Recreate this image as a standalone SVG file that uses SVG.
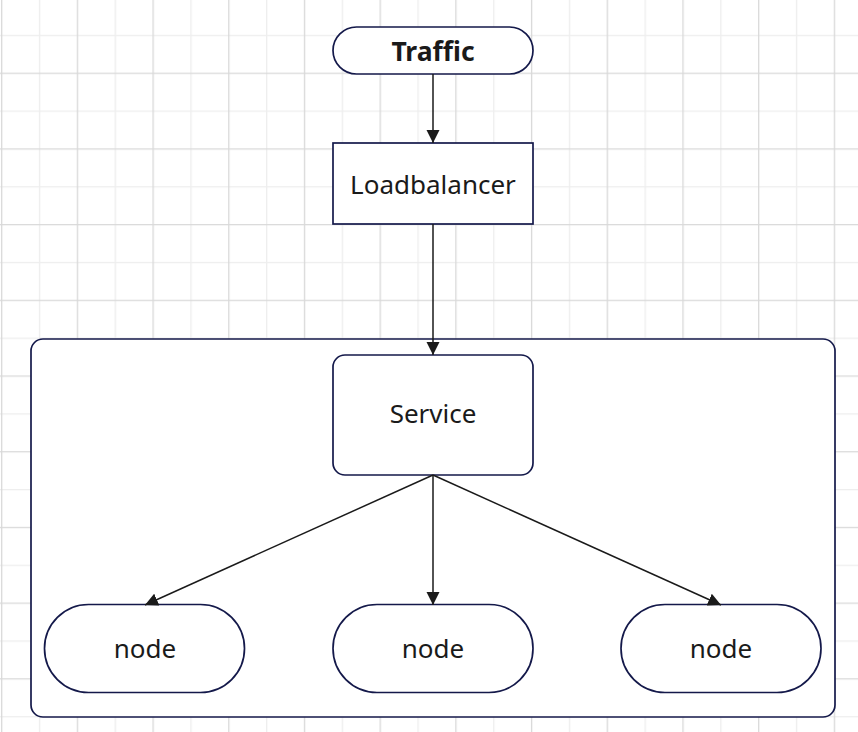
<svg xmlns="http://www.w3.org/2000/svg" width="858" height="732" viewBox="0 0 858 732">
<style>
.box{fill:#ffffff;stroke:#14194a;stroke-width:1.7}
.lbl{font-family:"Noto Sans","Open Sans",sans-serif;font-size:26px;fill:#1a1a1a;text-anchor:middle}
.bold{font-weight:bold;font-size:26.5px}
.edge{fill:none;stroke:#1a1a1a;stroke-width:1.5}
</style>
<defs>
<pattern id="grid" patternUnits="userSpaceOnUse" x="1.05" y="72.65" width="75.7" height="75.7">
<rect width="75.7" height="75.7" fill="#ffffff"/>
<line x1="0" y1="38.5" x2="75.7" y2="38.5" stroke="#eeeeee" stroke-width="1.3"/>
<line x1="38.5" y1="0" x2="38.5" y2="75.7" stroke="#eeeeee" stroke-width="1.3"/>
<line x1="0" y1="0.65" x2="75.7" y2="0.65" stroke="#d9d9d9" stroke-width="1.3"/>
<line x1="0.65" y1="0" x2="0.65" y2="75.7" stroke="#d9d9d9" stroke-width="1.3"/>
</pattern>
<marker id="arr" markerUnits="userSpaceOnUse" markerWidth="14" markerHeight="14" refX="13" refY="7" orient="auto">
<path d="M0,0.5 L13,7 L0,13.5 z" fill="#1a1a1a"/>
</marker>
</defs>
<rect width="858" height="732" fill="url(#grid)"/>
<g id="container"><rect class="box" x="31" y="339" width="804" height="378" rx="12"/></g>
<g id="traffic"><rect class="box" x="333" y="27" width="200" height="47" rx="23.5"/><text class="lbl bold" x="433" y="60.5">Traffic</text></g>
<g id="loadbalancer"><rect class="box" x="333" y="143" width="200" height="81"/><text class="lbl" x="433" y="194">Loadbalancer</text></g>
<g id="service"><rect class="box" x="333" y="355" width="200" height="120" rx="12"/><text class="lbl" x="433" y="423">Service</text></g>
<g id="node1"><rect class="box" x="44.5" y="604.5" width="200" height="88" rx="44"/><text class="lbl" x="145" y="657.5">node</text></g>
<g id="node2"><rect class="box" x="333" y="604.5" width="200" height="88" rx="44"/><text class="lbl" x="433" y="657.5">node</text></g>
<g id="node3"><rect class="box" x="621" y="604.5" width="200" height="88" rx="44"/><text class="lbl" x="721" y="657.5">node</text></g>
<g id="connectors">
<line class="edge" x1="433" y1="74" x2="433" y2="143" marker-end="url(#arr)"/>
<line class="edge" x1="433" y1="224" x2="433" y2="355" marker-end="url(#arr)"/>
<line class="edge" x1="433" y1="475" x2="145" y2="605" marker-end="url(#arr)"/>
<line class="edge" x1="433" y1="475" x2="433" y2="605" marker-end="url(#arr)"/>
<line class="edge" x1="433" y1="475" x2="721" y2="605" marker-end="url(#arr)"/>
</g>
</svg>
